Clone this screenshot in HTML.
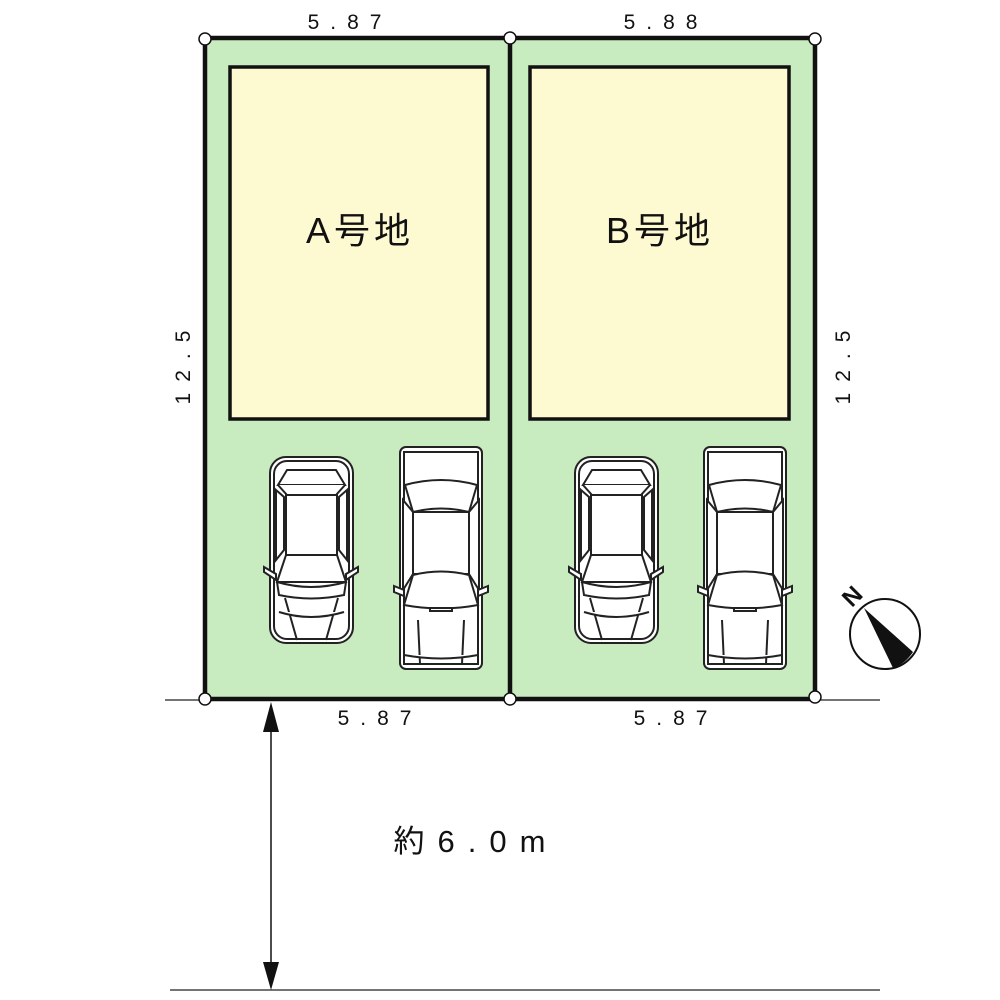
<!DOCTYPE html>
<html><head><meta charset="utf-8"><style>
html,body{margin:0;padding:0;background:#fff}
svg{display:block}
text{font-family:"Liberation Sans","Noto Sans CJK JP",sans-serif;fill:#111}
</style></head><body>
<svg width="1000" height="1000" viewBox="0 0 1000 1000" xmlns="http://www.w3.org/2000/svg">
<defs>
<g id="small" fill="#fff" stroke="#222" stroke-width="2">
  <rect x="270" y="457" width="83" height="186" rx="16"/>
  <rect x="274" y="461" width="75" height="178" rx="13"/>
  <path d="M287 470 L336 470 L345 485 L278 485 Z"/>
  <path d="M278 485 L287 495 L336 495 L345 485"/>
  <rect x="286" y="495" width="51" height="60"/>
  <path d="M276 490 L284 497 L284 550 L276 560 Z"/>
  <path d="M347 490 L339 497 L339 550 L347 560 Z"/>
  <path d="M286 555 L337 555 L346 582 L277 582 Z"/>
  <path d="M277 582 Q311 592 346 582 L344 595 Q311 602 279 595 Z"/>
  <path d="M285 598 L297 640 M338 598 L326 640"/>
  <path d="M279 612 Q311 622 344 612"/>
  <path d="M264 567 L276 574 L276 580 L264 572 Z M358 567 L346 574 L346 580 L358 572 Z"/>
</g>
<g id="sedan" fill="#fff" stroke="#222" stroke-width="2">
  <rect x="400" y="447" width="82" height="222" rx="6"/>
  <path d="M404 452 L478 452 L478 664 L404 664 Z"/>
  <path d="M405 485 Q441 475 477 485 L469 512 Q441 505 413 512 Z"/>
  <rect x="413" y="512" width="57" height="62"/>
  <path d="M403 500 L413 512 L413 574 L403 590 Z M479 500 L469 512 L469 574 L479 590 Z"/>
  <path d="M413 575 Q441 568 469 575 L478 605 Q441 612 404 605 Z"/>
  <rect x="430" y="608" width="22" height="3"/>
  <path d="M418 620 L420 664 M464 620 L462 664"/>
  <path d="M404 655 Q441 662 478 655"/>
  <path d="M394 586 L404 590 L404 596 L394 592 Z M488 586 L478 590 L478 596 L488 592 Z"/>
</g>
</defs>
<rect x="205" y="38" width="610" height="661" fill="#c8ebc0"/>
<line x1="165" y1="700" x2="880" y2="700" stroke="#222" stroke-width="1.2"/>
<line x1="170" y1="990" x2="880" y2="990" stroke="#222" stroke-width="1.2"/>
<rect x="205" y="38" width="610" height="661" fill="none" stroke="#111" stroke-width="4.5"/>
<line x1="510" y1="38" x2="510" y2="699" stroke="#111" stroke-width="4.5"/>
<rect x="230" y="67" width="258" height="352" fill="#fdf9d0" stroke="#111" stroke-width="3.5"/>
<rect x="530" y="67" width="259" height="352" fill="#fdf9d0" stroke="#111" stroke-width="3.5"/>
<use href="#small"/><use href="#sedan"/>
<use href="#small" transform="translate(305,0)"/><use href="#sedan" transform="translate(304,0)"/>
<g fill="#fff" stroke="#111" stroke-width="1.5">
<circle cx="205" cy="39" r="6"/><circle cx="510" cy="38" r="6"/><circle cx="815" cy="39" r="6"/>
<circle cx="205" cy="699" r="6"/><circle cx="510" cy="699" r="6"/><circle cx="815" cy="697" r="6"/>
</g>
<text x="350" y="29" font-size="21" text-anchor="middle" letter-spacing="11">5.87</text>
<text x="666" y="29" font-size="21" text-anchor="middle" letter-spacing="11">5.88</text>
<text x="380" y="725" font-size="21" text-anchor="middle" letter-spacing="11">5.87</text>
<text x="676" y="725" font-size="21" text-anchor="middle" letter-spacing="11">5.87</text>
<text transform="translate(190,362) rotate(-90)" font-size="21" text-anchor="middle" letter-spacing="11">12.5</text>
<text transform="translate(850,362) rotate(-90)" font-size="21" text-anchor="middle" letter-spacing="11">12.5</text>
<text x="360" y="243" font-size="36" text-anchor="middle" letter-spacing="4">A号地</text>
<text x="660" y="243" font-size="36" text-anchor="middle" letter-spacing="4">B号地</text>
<text x="476" y="852" font-size="31" text-anchor="middle" letter-spacing="13">約6.0m</text>
<line x1="271" y1="725" x2="271" y2="968" stroke="#111" stroke-width="1.5"/>
<path d="M271 702 L263 732 L279 732 Z" fill="#111"/>
<path d="M271 990 L263 962 L279 962 Z" fill="#111"/>
<circle cx="885" cy="634" r="35" fill="#fff" stroke="#111" stroke-width="2"/>
<path d="M864 608 L913 652 Q905 664 893 668 Z" fill="#111"/>
<text transform="translate(858,602) rotate(-45)" font-size="24" font-weight="bold" text-anchor="middle">N</text>
</svg>
</body></html>
